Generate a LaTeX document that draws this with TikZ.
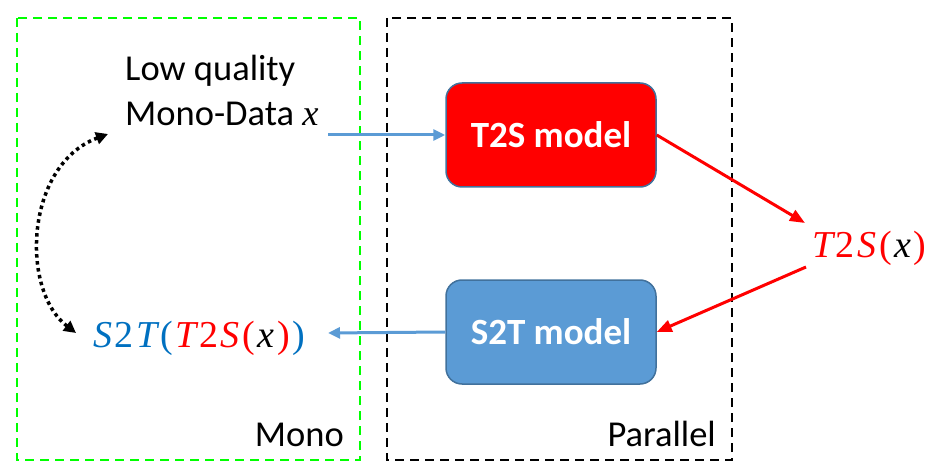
\documentclass[tikz,border=0pt]{standalone}
\usepackage{fontspec}
\setmainfont{Carlito}
\newfontfamily\mfont{Liberation Serif}
\usetikzlibrary{arrows.meta}
\definecolor{frameGreen}{HTML}{00FF00}
\definecolor{boxBlue}{HTML}{5B9BD5}
\definecolor{boxEdge}{HTML}{41719C}
\definecolor{txtBlue}{HTML}{0070C0}
\definecolor{arrBlue}{HTML}{5B9BD5}
\newcommand\myit[1]{{\mfont\itshape #1}}
\newcommand\myup[1]{{\mfont #1}}
\newcommand\gp{\kern2.6pt}
\begin{document}
\begin{tikzpicture}[x=1pt,y=-1pt,
  frame/.style={line width=2.6pt, dash pattern=on 9pt off 6pt},
  model/.style={draw=boxEdge, line width=1.5pt, rounded corners=16pt,
    minimum width=210pt, minimum height=104pt, text=white,
    font=\fontsize{37}{44}\selectfont\bfseries},
  lbl/.style={font=\fontsize{36.5}{45}\selectfont, inner sep=0pt},
  mth/.style={font=\fontsize{38}{44}\selectfont, inner sep=0pt},
  blarrow/.style={arrBlue, line width=3pt, -{Triangle[length=12pt,width=11pt]}},
  rdarrow/.style={red, line width=3pt, -{Triangle[length=15pt,width=12pt]}},
  loop/.style={line width=3.5pt, dash pattern=on 3.5pt off 3.5pt,
    {Triangle[length=12pt,width=12pt]}-{Triangle[length=12pt,width=12pt]}}]
\useasboundingbox (0,0) rectangle (931,470);
\draw[frame, frameGreen] (17,18) rectangle (360,460);
\draw[frame, black] (387,18) rectangle (732,460);

\node[model, fill=red] (t2s) at (551,135) {T2S model};
\node[model, fill=boxBlue] (s2t) at (551,332) {S2T model};

\node[lbl, anchor=base west, align=left] (low) at (125,126)
  {Low quality\\Mono-Data \myit{x}};
\node[mth, anchor=base west, text=red] (res) at (812,258)
  {\myit{T}\gp\myup{2}\gp\myit{S}\gp\myup{(}\gp\textcolor{black}{\myit{x}}\gp\myup{)}};
\node[mth, anchor=base west, text=txtBlue] (comp) at (93,347)
  {\myit{S}\gp\myup{2}\gp\myit{T}\gp\myup{(}\gp\textcolor{red}{\myit{T}\gp\myup{2}\gp\myit{S}\gp\myup{(}\gp\textcolor{black}{\myit{x}}\gp\myup{)}}\gp\myup{)}};
\node[lbl, anchor=base east] (mono) at (344,446) {Mono};
\node[lbl, anchor=base east] (par) at (716,446) {Parallel};

\coordinate (lowout) at (328,135);
\coordinate (compin) at (328,333);
\coordinate (resin) at (805,223);
\coordinate (resout) at (806,267);
\coordinate (lowtip) at (108,134);
\coordinate (comptip) at (76,333);

\draw[blarrow] (lowout) -- (t2s.west);
\draw[blarrow] (s2t.west) -- (compin);
\draw[rdarrow] (t2s.east) -- (resin);
\draw[rdarrow] (resout) -- (s2t.east);
\draw[loop] (lowtip) .. controls (25,165) and (20,290) .. (comptip);
\end{tikzpicture}
\end{document}
